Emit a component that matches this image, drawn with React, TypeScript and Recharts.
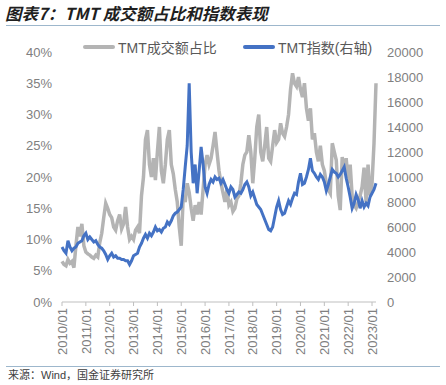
import React from 'react';
import { LineChart, Line, XAxis, YAxis } from 'recharts';

// monthly, 2010/01 .. 2023/03
const startYear = 2010;

// TMT成交额占比 (%)
const shareValues = [
  6.5, 6.0, 5.8, 6.8, 6.2, 6.5, 5.5, 9.0, 12.0, 10.5, 12.5, 9.0,
  8.0, 7.7, 7.5, 7.2, 7.0, 7.5, 7.2, 9.5, 11.0, 13.5, 15.8, 15.0,
  14.0, 13.5, 12.0, 11.5, 13.0, 14.0, 11.7, 12.5, 15.2, 12.0, 10.0, 10.5,
  10.0, 11.5, 12.0, 11.0, 17.0, 20.0, 26.0, 27.5, 22.0, 20.0, 23.0, 19.5,
  24.0, 28.0, 21.0, 19.0, 22.0, 26.0, 27.5, 22.0, 20.5, 18.0, 16.0, 12.0,
  9.0, 17.0, 16.0, 19.0, 17.5, 15.0, 13.0, 15.5, 14.0, 16.0, 14.0, 18.0,
  22.0, 23.5, 22.0, 23.0, 25.0, 27.2, 24.0, 21.0, 19.0, 17.5, 16.0, 18.0,
  15.5, 16.0, 14.5, 15.0, 16.5, 17.0, 19.0, 22.0, 23.5, 24.0, 26.7, 24.0,
  19.0, 23.0, 28.0, 30.0, 24.0, 22.5, 25.0, 28.0, 23.0, 22.5, 25.0, 27.5,
  25.5, 26.0, 28.6, 27.0, 26.5, 28.0, 30.0, 34.0, 36.6, 35.0, 34.5, 36.0,
  34.0, 32.8, 35.0, 31.0, 29.0, 31.0, 26.0, 27.0, 24.0, 22.5, 25.0, 22.0,
  21.0, 19.0, 18.0, 17.4, 25.4, 24.0, 22.7, 17.0, 14.7, 23.2, 21.0, 23.0,
  19.0, 22.0, 17.0, 15.5, 15.0, 16.0, 17.0, 18.4, 21.5, 16.0, 22.0, 17.0,
  19.0, 25.4, 35.0,
];

// TMT指数 (右轴)
const indexValues = [
  4400, 4100, 3900, 4900, 4400, 4100, 4300, 4400, 4700, 4800, 4900, 5300,
  5500, 5000, 5200, 5000, 4800, 4900, 4600, 4400, 4300, 4100, 3800, 3400,
  3700, 3900, 3600, 3700, 3500, 3500, 3400, 3400, 3300, 3300, 3000, 3300,
  3700, 3800, 3900, 4400, 4700, 5100, 5400, 5100, 5500, 5300, 5600, 6000,
  5700, 5800, 5600, 5900, 6000, 6400, 6200, 6500, 6900, 7100, 7200, 7400,
  7600, 9000, 10800, 12500, 17500, 12000, 9500, 11000, 8700, 10500, 12400, 11000,
  9200, 8700, 9400, 9800, 9600, 10000, 9800, 9900, 9500, 9800, 9400, 9000,
  8700, 9200, 9000, 8400, 8600, 8800, 8700, 9000, 9400, 9600, 9200, 8500,
  8800, 8300, 7800, 7600, 7400, 7000, 6600, 6200, 5800, 5700, 6000, 6800,
  7600, 8100, 7400, 7000, 7100, 7600, 8100, 7800, 8300, 8700, 8600, 9600,
  10300, 9400, 9500, 10000, 10600, 11500, 10500, 10300, 10000, 9800, 10200, 10000,
  9600, 8900, 9400, 10000, 10600, 10400, 10300, 10000, 10200, 10500, 10800, 9900,
  9200, 8400, 7500, 7900, 8600, 8200, 7500, 8100, 7600, 7900, 7700, 8400,
  8700, 9000, 9500,
];

const leftTicks = [0, 5, 10, 15, 20, 25, 30, 35, 40];
const rightTicks = [0, 2000, 4000, 6000, 8000, 10000, 12000, 14000, 16000, 18000, 20000];

const data = shareValues.map((share, i) => {
  const y = startYear + Math.floor(i / 12);
  const m = (i % 12) + 1;
  return {
    month: `${y}/${m < 10 ? '0' + m : m}`,
    share,
    index: indexValues[i],
  };
});

const FONT = '"Liberation Sans", Arial, "Noto Sans CJK SC", sans-serif';
const LABEL = '#808080';

const MonthTick = (props: any) => {
  const { x, y, payload } = props;
  return (
    <text
      transform={`translate(${x},${y}) rotate(-90)`}
      textAnchor="end"
      dy="0.36em"
      fill={LABEL}
      fontSize={13}
      fontFamily={FONT}
    >
      {payload.value}
    </text>
  );
};

const LegendItem = ({ color, label, left }: { color: string; label: string; left: number }) => (
  <div style={{ position: 'absolute', left, top: 38, display: 'flex', alignItems: 'center', height: 18 }}>
    <div style={{ width: 32, height: 4, background: color, borderRadius: 2, marginRight: 3 }} />
    <span style={{ fontSize: 14, color: '#595959', fontFamily: FONT, whiteSpace: 'nowrap' }}>{label}</span>
  </div>
);

export default function App() {
  return (
    <div style={{ position: 'absolute', left: 0, top: 0, width: 446, height: 385, overflow: 'hidden', background: '#fff' }}>
      <div
        style={{
          position: 'absolute',
          left: 5,
          top: 1,
          fontSize: 16.5,
          fontWeight: 'bold',
          fontStyle: 'italic',
          color: '#1f1f1f',
          fontFamily: '"Noto Sans CJK SC", sans-serif',
          whiteSpace: 'nowrap',
        }}
      >
        图表7：TMT 成交额占比和指数表现
      </div>
      <div style={{ position: 'absolute', left: 6, right: 6, top: 25, height: 1, background: '#9db7cc' }} />

      <LegendItem color="#b4b4b4" label="TMT成交额占比" left={83} />
      <LegendItem color="#4472c4" label="TMT指数(右轴)" left={243} />

      <div style={{ position: 'absolute', left: 0, top: 0 }}>
        <LineChart width={446} height={385} data={data} margin={{ top: 52, right: 0, bottom: 0, left: 0 }}>
          <XAxis
            dataKey="month"
            interval={11}
            height={83}
            tick={<MonthTick />}
            tickSize={4}
            tickMargin={2}
            tickLine={{ stroke: '#bfbfbf' }}
            axisLine={{ stroke: '#bfbfbf' }}
          />
          <YAxis
            yAxisId="left"
            width={62}
            domain={[0, 40]}
            ticks={leftTicks}
            tickFormatter={(v: number) => `${v}%`}
            axisLine={false}
            tickLine={false}
            tickSize={0}
            tickMargin={10}
            tick={{ fill: LABEL, fontSize: 13, fontFamily: FONT }}
          />
          <YAxis
            yAxisId="right"
            orientation="right"
            width={70}
            domain={[0, 20000]}
            ticks={rightTicks}
            axisLine={false}
            tickLine={false}
            tickSize={0}
            tickMargin={11}
            tick={{ fill: LABEL, fontSize: 13, fontFamily: FONT, textAnchor: 'start' }}
          />
          <Line
            yAxisId="left"
            type="linear"
            dataKey="share"
            stroke="#b4b4b4"
            strokeWidth={3.5}
            dot={false}
            isAnimationActive={false}
          />
          <Line
            yAxisId="right"
            type="linear"
            dataKey="index"
            stroke="#4472c4"
            strokeWidth={3}
            dot={false}
            isAnimationActive={false}
          />
        </LineChart>
      </div>

      <div style={{ position: 'absolute', left: 6, right: 6, top: 366, height: 1, background: '#9db7cc' }} />
      <div style={{ position: 'absolute', left: 8, top: 369, fontSize: 11, lineHeight: '13px', color: '#404040', fontFamily: FONT, whiteSpace: 'nowrap' }}>
        来源：Wind，国金证券研究所
      </div>
    </div>
  );
}
